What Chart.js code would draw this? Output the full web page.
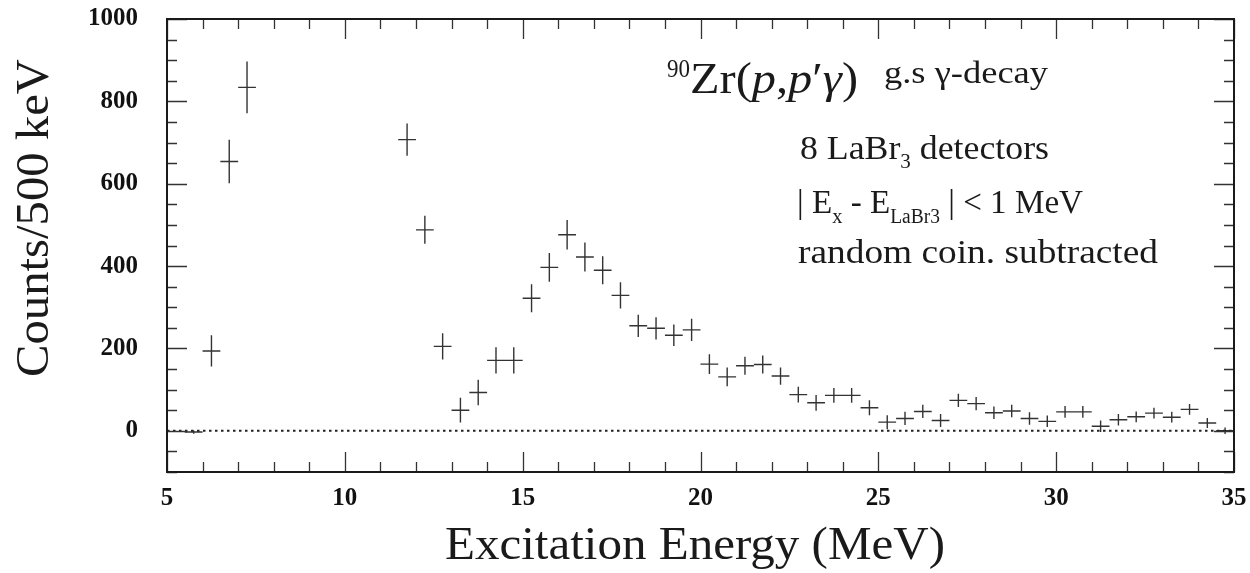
<!DOCTYPE html>
<html>
<head>
<meta charset="utf-8">
<script src="https://cdn.jsdelivr.net/npm/chart.js@4.4.1/dist/chart.umd.min.js"></script>
<style>
html,body{margin:0;padding:0;background:#fff;}
#wrap{width:1250px;height:573px;}
</style>
</head>
<body>
<div id="wrap"><canvas id="c" width="1250" height="573"></canvas></div>
<script>
// ---- data ----
const energies = [5.75,6.25,6.75,7.25,11.75,12.25,12.75,13.25,13.75,14.25,14.75,15.25,15.75,16.25,16.75,17.25,17.75,18.25,18.75,19.25,19.75,20.25,20.75,21.25,21.75,22.25,22.75,23.25,23.75,24.25,24.75,25.25,25.75,26.25,26.75,27.25,27.75,28.25,28.75,29.25,29.75,30.25,30.75,31.25,31.75,32.25,32.75,33.25,33.75,34.25,34.75];
const counts = [-3,194,654,834,707,488,205,50,93,171,171,322,397,476,422,390,329,255,249,232,245,162,131,158,161,133,88,68,86,86,56,21,30,47,25,74,66,44,48,30,23,46,46,11,27,34,43,33,52,19,0];
const errors = [4,38,53,63,39,34,32,30,31,32,32,34,35,36,35,34,32,27,27,26,27,24,23,22,22,21,19,19,18,18,18,17,16,16,16,16,16,15,15,15,14,14,14,14,14,13,13,13,13,12,8];
const binHalfWidth = 0.25;
const xTickLabels = [5,10,15,20,25,30,35];
const yTickLabels = [0,200,400,600,800,1000];
const zeroLine = [5,35];

const SERIF = "'Liberation Serif', 'Times New Roman', serif";

// horizontal (bin width) and vertical (error) bars, separated by gaps
const hBars = [], vBars = [];
energies.forEach((e,i)=>{
  hBars.push({x:e-binHalfWidth,y:counts[i]},{x:e+binHalfWidth,y:counts[i]},{x:e+binHalfWidth,y:null});
  vBars.push({x:e,y:counts[i]-errors[i]},{x:e,y:counts[i]+errors[i]},{x:e,y:null});
});

function drawRuns(ctx, runs, x, baseline, targetWidth){
  let total = 0;
  runs.forEach(r=>{ctx.font=r.font; total += ctx.measureText(r.t).width;});
  const sx = targetWidth ? targetWidth/total : 1;
  ctx.save();
  ctx.translate(x, baseline);
  ctx.scale(sx,1);
  let cx = 0;
  runs.forEach(r=>{
    ctx.font = r.font;
    ctx.fillText(r.t, cx, r.dy||0);
    cx += ctx.measureText(r.t).width;
  });
  ctx.restore();
}

const framePlugin = {
  id:'frame',
  afterDraw(chart){
    const {ctx, chartArea:a, scales:{x,y}} = chart;
    ctx.save();
    ctx.strokeStyle = '#333';
    ctx.lineWidth = 1.3;
    ctx.beginPath();
    x.ticks.forEach(t=>{
      const px = Math.round(x.getPixelForValue(t.value))+0.5;
      const L = (t.value % 5 === 0) ? 20 : 10;
      ctx.moveTo(px,a.bottom); ctx.lineTo(px,a.bottom-L);
      ctx.moveTo(px,a.top); ctx.lineTo(px,a.top+L);
    });
    y.ticks.forEach(t=>{
      const py = Math.round(y.getPixelForValue(t.value))+0.5;
      const L = (t.value % 200 === 0) ? 20 : 10;
      ctx.moveTo(a.left,py); ctx.lineTo(a.left+L,py);
      ctx.moveTo(a.right,py); ctx.lineTo(a.right-L,py);
    });
    ctx.stroke();
    ctx.strokeStyle = '#1a1a1a';
    ctx.lineWidth = 2;
    ctx.strokeRect(a.left, a.top, a.right-a.left, a.bottom-a.top);

    ctx.fillStyle = '#1a1a1a';
    ctx.textBaseline = 'alphabetic';
    ctx.textAlign = 'left';
    // axis titles
    drawRuns(ctx,[{t:'Excitation Energy (MeV)',font:`46px ${SERIF}`}],445,559,500);
    ctx.save();
    ctx.translate(48,377);
    ctx.rotate(-Math.PI/2);
    drawRuns(ctx,[{t:'Counts/500 keV',font:`46px ${SERIF}`}],0,0,318);
    ctx.restore();
    // annotations
    drawRuns(ctx,[{t:'90',font:`25px ${SERIF}`}],667,77,23);
    drawRuns(ctx,[
      {t:'Zr(',font:`44px ${SERIF}`},
      {t:'p',font:`italic 44px ${SERIF}`},
      {t:',',font:`44px ${SERIF}`},
      {t:'p',font:`italic 44px ${SERIF}`},
      {t:'\u2032',font:`44px ${SERIF}`},
      {t:'\u03B3',font:`italic 44px ${SERIF}`},
      {t:')',font:`44px ${SERIF}`}
    ],690,93,168);
    drawRuns(ctx,[{t:'g.s \u03B3-decay',font:`32px ${SERIF}`}],884,83,164);
    drawRuns(ctx,[
      {t:'8 LaBr',font:`34px ${SERIF}`},
      {t:'3',font:`20px ${SERIF}`,dy:9},
      {t:' detectors',font:`34px ${SERIF}`}
    ],800,159,249);
    drawRuns(ctx,[
      {t:'| E',font:`34px ${SERIF}`},
      {t:'x',font:`21px ${SERIF}`,dy:10},
      {t:' - E',font:`34px ${SERIF}`},
      {t:'LaBr3',font:`20px ${SERIF}`,dy:10},
      {t:' | < 1 MeV',font:`34px ${SERIF}`}
    ],797,213,286);
    drawRuns(ctx,[{t:'random coin. subtracted',font:`34px ${SERIF}`}],798,263,360);
    ctx.restore();
  }
};

const tickFont = {family:SERIF, weight:'bold', size:25};

new Chart(document.getElementById('c'),{
  type:'scatter',
  data:{
    datasets:[
      {label:'zero', data:zeroLine.map(v=>({x:v,y:0})), showLine:true, borderColor:'#222', borderWidth:2, borderDash:[2.5,3.5], pointRadius:0},
      {label:'bin width', data:hBars, showLine:true, spanGaps:false, borderColor:'#333', borderWidth:1.4, pointRadius:0},
      {label:'error', data:vBars, showLine:true, spanGaps:false, borderColor:'#333', borderWidth:1.4, pointRadius:0}
    ]
  },
  options:{
    responsive:false,
    animation:false,
    devicePixelRatio:1,
    layout:{padding:{top:19,right:16,left:0,bottom:0}},
    plugins:{legend:{display:false},tooltip:{enabled:false}},
    scales:{
      x:{
        type:'linear', min:5, max:35,
        ticks:{stepSize:1, autoSkip:false, maxRotation:0, color:'#111', font:tickFont, padding:12,
          callback:v=> xTickLabels.includes(v) ? String(v) : ''},
        grid:{drawOnChartArea:false, drawTicks:false},
        border:{display:false},
        afterFit:s=>{s.height = 101; s.paddingLeft = 0; s.paddingRight = 0;}
      },
      y:{
        type:'linear', min:-100, max:1000,
        ticks:{stepSize:50, autoSkip:false, color:'#111', font:tickFont, padding:29,
          callback:v=> yTickLabels.includes(v) ? String(v) : ''},
        grid:{drawOnChartArea:false, drawTicks:false},
        border:{display:false},
        afterFit:s=>{s.width = 167; s.paddingTop = 0; s.paddingBottom = 0;}
      }
    }
  },
  plugins:[framePlugin]
});
</script>
</body>
</html>
